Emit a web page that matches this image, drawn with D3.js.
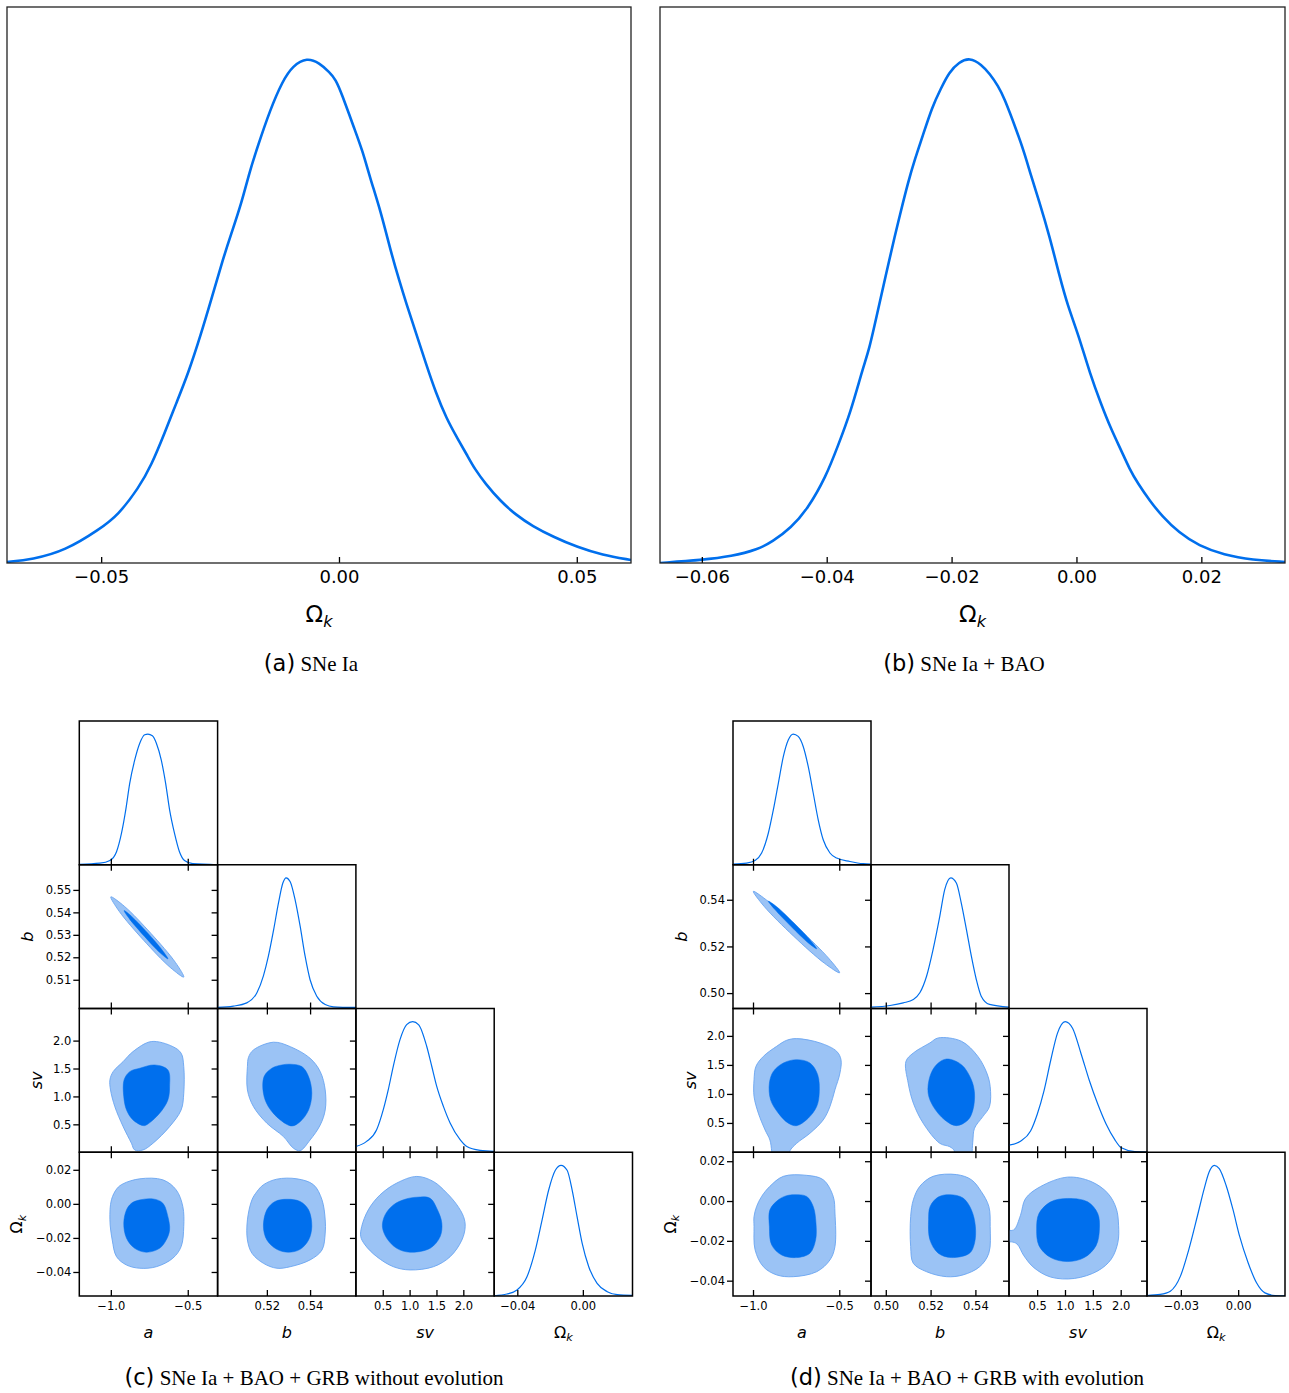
<!DOCTYPE html>
<html>
<head>
<meta charset="utf-8">
<script src="https://cdn.jsdelivr.net/npm/d3@7"></script>
<style>
  body { margin: 0; background: #fff; }
  text { font-family: "DejaVu Sans", sans-serif; white-space: pre; }
</style>
</head>
<body>
<svg id="fig" width="1289" height="1393"></svg>
<script>
// Omega_k posteriors (top) and triangle plots (bottom).
// 1D curves are [value, density relative to peak]; contours are outlines in parameter space.

// ---------- (a) SNe Ia ----------
const limitsA = [-0.0698, 0.0614];
const ticksA = [-0.05, 0.0, 0.05];
const tickLabelsA = ["−0.05", "0.00", "0.05"];
const curveA = [[-0.0698,0.002],[-0.0645,0.007],[-0.0576,0.024],[-0.0503,0.067],[-0.0464,0.095],[-0.0421,0.149],
  [-0.0395,0.192],[-0.0365,0.261],[-0.0343,0.314],[-0.0317,0.375],[-0.0291,0.450],[-0.0266,0.529],[-0.0244,0.601],
  [-0.0227,0.650],[-0.0205,0.712],[-0.0188,0.774],[-0.0171,0.824],[-0.0145,0.896],[-0.0119,0.953],[-0.0097,0.984],
  [-0.0067,1.0],[-0.0041,0.989],[-0.0020,0.971],[-0.0007,0.957],[0.0006,0.928],[0.0032,0.860],[0.0049,0.817],
  [0.0066,0.760],[0.0088,0.695],[0.0109,0.616],[0.0127,0.558],[0.0142,0.512],[0.0161,0.458],[0.0183,0.394],
  [0.0204,0.336],[0.0226,0.286],[0.0247,0.250],[0.0269,0.214],[0.0286,0.185],[0.0308,0.157],[0.0338,0.124],
  [0.0372,0.095],[0.0407,0.073],[0.0450,0.052],[0.0502,0.031],[0.0553,0.016],[0.0614,0.006]];

// ---------- (b) SNe Ia + BAO ----------
const limitsB = [-0.0667, 0.0334];
const ticksB = [-0.06, -0.04, -0.02, 0.0, 0.02];
const tickLabelsB = ["−0.06", "−0.04", "−0.02", "0.00", "0.02"];
const curveB = [[-0.0667,0.0],[-0.0600,0.006],[-0.0552,0.013],[-0.0510,0.027],[-0.0487,0.042],[-0.0457,0.070],
  [-0.0431,0.106],[-0.0401,0.171],[-0.0382,0.232],[-0.0362,0.297],[-0.0342,0.386],[-0.0332,0.422],[-0.0319,0.494],
  [-0.0306,0.566],[-0.0290,0.652],[-0.0283,0.687],[-0.0270,0.752],[-0.0258,0.802],[-0.0247,0.842],[-0.0231,0.903],
  [-0.0217,0.939],[-0.0204,0.971],[-0.0188,0.991],[-0.0171,1.0],[-0.0152,0.986],[-0.0139,0.968],[-0.0125,0.943],
  [-0.0116,0.921],[-0.0096,0.856],[-0.0083,0.810],[-0.0073,0.767],[-0.0060,0.717],[-0.0043,0.646],[-0.0027,0.567],
  [-0.0014,0.509],[0.0003,0.452],[0.0022,0.373],[0.0039,0.316],[0.0055,0.266],[0.0072,0.222],[0.0085,0.186],
  [0.0098,0.158],[0.0118,0.122],[0.0137,0.093],[0.0164,0.060],[0.0196,0.034],[0.0236,0.016],[0.0282,0.006],[0.0334,0.002]];

// ---------- triangle parameters ----------
const paramNames = ["a", "b", "sv", "Ωk"];

// (c) without evolution
const limitsC = [[-1.205,-0.306],[0.4972,0.5612],[0,2.575],[-0.0541,0.0303]];
const xTicksC = [[-1.0,-0.5],[0.52,0.54],[0.5,1.0,1.5,2.0],[-0.04,0.0]];
const xLabelsC = [["−1.0","−0.5"],["0.52","0.54"],["0.5","1.0","1.5","2.0"],["−0.04","0.00"]];
const yTicksC = [[],[0.51,0.52,0.53,0.54,0.55],[0.5,1.0,1.5,2.0],[-0.04,-0.02,0.0,0.02]];
const yLabelsC = [[],["0.51","0.52","0.53","0.54","0.55"],["0.5","1.0","1.5","2.0"],["−0.04","−0.02","0.00","0.02"]];

const margC_a = [[-1.205,0.003],[-1.071,0.012],[-1.006,0.033],[-0.963,0.10],[-0.931,0.24],[-0.903,0.42],[-0.877,0.625],
  [-0.845,0.80],[-0.812,0.93],[-0.780,0.995],[-0.759,1.0],[-0.730,0.987],[-0.704,0.93],[-0.672,0.80],[-0.644,0.625],
  [-0.618,0.42],[-0.586,0.24],[-0.554,0.10],[-0.521,0.033],[-0.467,0.008],[-0.306,0.0]];
const margC_b = [[0.4972,0.008],[0.5045,0.018],[0.5107,0.043],[0.5154,0.12],[0.5184,0.25],[0.5207,0.40],[0.5231,0.60],
  [0.5254,0.81],[0.5274,0.96],[0.5289,1.0],[0.5308,0.97],[0.5331,0.83],[0.5354,0.63],[0.5377,0.40],[0.5400,0.22],
  [0.5431,0.094],[0.5470,0.03],[0.5508,0.013],[0.5612,0.008]];
const margC_sv = [[0.0,0.044],[0.199,0.083],[0.386,0.172],[0.510,0.326],[0.603,0.479],[0.696,0.658],[0.821,0.862],
  [0.945,0.977],[1.057,1.0],[1.17,0.975],[1.318,0.811],[1.412,0.658],[1.505,0.504],[1.629,0.351],[1.754,0.224],
  [1.940,0.096],[2.065,0.044],[2.313,0.014],[2.575,0.006]];
const margC_ok = [[-0.0541,0.002],[-0.0463,0.015],[-0.0402,0.046],[-0.0341,0.147],[-0.0290,0.351],[-0.0249,0.580],
  [-0.0209,0.809],[-0.0168,0.962],[-0.0133,1.0],[-0.0096,0.962],[-0.0065,0.809],[-0.0035,0.605],[-0.0004,0.402],
  [0.0036,0.224],[0.0087,0.097],[0.0149,0.033],[0.0210,0.010],[0.0303,0.005]];

const contC_ab_outer = [[-1.000,0.5469],[-0.912,0.5427],[-0.739,0.5306],[-0.580,0.5177],[-0.526,0.5112],[-0.614,0.5155],[-0.787,0.5276],[-0.946,0.5405]];
const contC_ab_inner = [[-0.914,0.5408],[-0.863,0.5381],[-0.7605,0.5308],[-0.664,0.5230],[-0.629,0.5193],[-0.680,0.5220],[-0.7825,0.5294],[-0.879,0.5371]];
const contC_asv_outer = [[-0.737,1.983],[-0.597,1.892],[-0.543,1.774],[-0.526,1.534],[-0.526,1.057],[-0.543,0.758],[-0.618,0.459],
  [-0.726,0.161],[-0.791,0.041],[-0.845,0.041],[-0.866,0.161],[-0.920,0.459],[-0.974,0.817],[-1.002,1.116],[-1.006,1.296],
  [-0.985,1.444],[-0.920,1.624],[-0.856,1.803]];
const contC_asv_inner = [[-0.715,1.564],[-0.629,1.475],[-0.618,1.176],[-0.629,0.937],[-0.683,0.699],[-0.769,0.489],[-0.791,0.477],
  [-0.856,0.579],[-0.898,0.758],[-0.916,0.996],[-0.914,1.296],[-0.877,1.444],[-0.812,1.505]];
const contC_bsv_outer = [[0.5231,1.971],[0.5308,1.892],[0.5400,1.684],[0.5447,1.444],[0.5470,1.116],[0.5470,0.758],[0.5447,0.489],
  [0.5400,0.220],[0.5354,0.029],[0.5323,0.072],[0.5277,0.280],[0.5200,0.520],[0.5138,0.817],[0.5110,1.116],[0.5110,1.534],
  [0.5115,1.700],[0.5138,1.833]];
const contC_bsv_inner = [[0.5308,1.577],[0.5362,1.534],[0.5393,1.355],[0.5408,1.057],[0.5393,0.758],[0.5354,0.548],[0.5316,0.471],
  [0.5262,0.579],[0.5207,0.817],[0.5184,1.057],[0.5187,1.355],[0.5223,1.505],[0.5269,1.564]];
const contC_aok_outer = [[-0.920,0.0118],[-0.812,0.0147],[-0.662,0.0141],[-0.575,0.0082],[-0.532,-0.0016],[-0.526,-0.0133],
  [-0.543,-0.0251],[-0.597,-0.0319],[-0.704,-0.0369],[-0.812,-0.0378],[-0.898,-0.0359],[-0.963,-0.0310],[-0.991,-0.0212],
  [-1.006,-0.0094],[-0.996,0.0024],[-0.960,0.0090]];
const contC_aok_inner = [[-0.834,0.0018],[-0.726,0.0029],[-0.662,0.0004],[-0.629,-0.0075],[-0.618,-0.0153],[-0.640,-0.0212],
  [-0.683,-0.0261],[-0.769,-0.0284],[-0.845,-0.0261],[-0.898,-0.0202],[-0.916,-0.0114],[-0.898,-0.0035],[-0.870,0.0000]];
const contC_bok_outer = [[0.5184,0.0112],[0.5246,0.0145],[0.5339,0.0147],[0.5416,0.0112],[0.5455,0.0024],[0.5470,-0.0094],
  [0.5470,-0.0172],[0.5455,-0.0271],[0.5400,-0.0329],[0.5308,-0.0369],[0.5246,-0.0378],[0.5184,-0.0349],[0.5131,-0.0290],
  [0.5110,-0.0212],[0.5110,-0.0094],[0.5131,0.0024],[0.5154,0.0072]];
const contC_bok_inner = [[0.5293,0.0027],[0.5354,0.0014],[0.5393,-0.0035],[0.5408,-0.0133],[0.5393,-0.0212],[0.5354,-0.0267],
  [0.5300,-0.0284],[0.5246,-0.0267],[0.5200,-0.0212],[0.5184,-0.0133],[0.5200,-0.0035],[0.5238,0.0014]];
const contC_svok_outer = [[1.134,0.0161],[1.444,0.0131],[1.694,0.0063],[1.881,-0.0006],[2.004,-0.0075],[2.035,-0.0133],
  [1.974,-0.0212],[1.756,-0.0310],[1.444,-0.0369],[1.009,-0.0388],[0.698,-0.0369],[0.388,-0.0310],[0.170,-0.0241],
  [0.090,-0.0192],[0.108,-0.0133],[0.231,-0.0035],[0.450,0.0053],[0.761,0.0122]];
const contC_svok_inner = [[1.134,0.0039],[1.382,0.0033],[1.519,-0.0035],[1.600,-0.0114],[1.569,-0.0192],[1.382,-0.0261],
  [1.009,-0.0284],[0.761,-0.0261],[0.575,-0.0202],[0.493,-0.0133],[0.543,-0.0065],[0.698,-0.0006],[0.916,0.0027]];

// (d) with evolution
const limitsD = [[-1.116,-0.316],[0.4934,0.555],[-0.005,2.472],[-0.0477,0.0245]];
const xTicksD = [[-1.0,-0.5],[0.50,0.52,0.54],[0.5,1.0,1.5,2.0],[-0.03,0.0]];
const xLabelsD = [["−1.0","−0.5"],["0.50","0.52","0.54"],["0.5","1.0","1.5","2.0"],["−0.03","0.00"]];
const yTicksD = [[],[0.50,0.52,0.54],[0.5,1.0,1.5,2.0],[-0.04,-0.02,0.0,0.02]];
const yLabelsD = [[],["0.50","0.52","0.54"],["0.5","1.0","1.5","2.0"],["−0.04","−0.02","0.00","0.02"]];

const margD_a = [[-1.116,0.005],[-1.037,0.013],[-0.988,0.033],[-0.950,0.09],[-0.911,0.243],[-0.882,0.421],[-0.853,0.625],
  [-0.824,0.829],[-0.795,0.956],[-0.767,1.0],[-0.738,0.982],[-0.709,0.905],[-0.680,0.752],[-0.651,0.549],[-0.622,0.344],
  [-0.593,0.191],[-0.554,0.090],[-0.515,0.051],[-0.438,0.025],[-0.361,0.008],[-0.316,0.005]];
const margD_b = [[0.4934,0.010],[0.5019,0.023],[0.5078,0.043],[0.5123,0.069],[0.5152,0.120],[0.5182,0.247],[0.5211,0.451],
  [0.5241,0.705],[0.5263,0.909],[0.5290,1.0],[0.5315,0.960],[0.5337,0.807],[0.5360,0.604],[0.5382,0.400],[0.5404,0.222],
  [0.5426,0.094],[0.5463,0.031],[0.5550,0.010]];
const margD_sv = [[-0.005,0.054],[0.201,0.085],[0.382,0.162],[0.502,0.291],[0.624,0.472],[0.744,0.704],[0.864,0.910],
  [1.003,1.0],[1.136,0.949],[1.287,0.756],[1.437,0.549],[1.588,0.369],[1.740,0.214],[1.891,0.098],[2.011,0.034],
  [2.253,0.005],[2.472,0.002]];
const margD_ok = [[-0.0477,0.004],[-0.0408,0.012],[-0.0355,0.037],[-0.0302,0.152],[-0.0258,0.357],[-0.0213,0.614],
  [-0.0178,0.820],[-0.0152,0.949],[-0.0125,1.0],[-0.0099,0.975],[-0.0063,0.846],[-0.0028,0.666],[0.0007,0.460],
  [0.0052,0.255],[0.0096,0.101],[0.0140,0.024],[0.0193,0.004],[0.0245,0.002]];

const contD_ab_outer = [[-0.998,0.5436],[-0.910,0.5392],[-0.730,0.5274],[-0.560,0.5148],[-0.498,0.5087],[-0.586,0.5128],[-0.766,0.5245],[-0.936,0.5372]];
const contD_ab_inner = [[-0.911,0.5394],[-0.8626,0.5370],[-0.762,0.5300],[-0.6666,0.5225],[-0.631,0.5190],[-0.6794,0.5215],[-0.780,0.5286],[-0.8754,0.5360]];
const contD_asv_outer = [[-0.747,1.953],[-0.612,1.879],[-0.515,1.734],[-0.490,1.590],[-0.496,1.360],[-0.525,1.071],[-0.554,0.782],
  [-0.593,0.552],[-0.670,0.322],[-0.747,0.149],[-0.786,0.02],[-0.790,-0.06],[-0.890,-0.06],[-0.892,0.02],[-0.902,0.206],
  [-0.930,0.379],[-0.969,0.668],[-0.994,0.955],[-0.994,1.244],[-0.983,1.474],[-0.940,1.647],[-0.863,1.820],[-0.805,1.924]];
const contD_asv_inner = [[-0.747,1.590],[-0.670,1.533],[-0.625,1.331],[-0.616,1.014],[-0.631,0.782],[-0.680,0.581],[-0.747,0.453],
  [-0.795,0.495],[-0.853,0.668],[-0.898,0.898],[-0.905,1.187],[-0.882,1.388],[-0.824,1.533]];
const contD_bsv_outer = [[0.5234,1.965],[0.5338,1.907],[0.5411,1.647],[0.5451,1.360],[0.5466,1.128],[0.5463,0.782],[0.5433,0.609],
  [0.5396,0.408],[0.5389,0.206],[0.5386,0.02],[0.5386,-0.06],[0.5306,-0.06],[0.5306,0.02],[0.5286,0.090],[0.5241,0.149],
  [0.5167,0.495],[0.5123,0.841],[0.5100,1.187],[0.5090,1.561],[0.5123,1.706],[0.5197,1.879]];
const contD_bsv_inner = [[0.5271,1.602],[0.5338,1.503],[0.5382,1.244],[0.5396,1.014],[0.5389,0.725],[0.5367,0.552],[0.5315,0.453],
  [0.5263,0.552],[0.5212,0.782],[0.5189,1.014],[0.5197,1.301],[0.5226,1.503]];
const contD_aok_outer = [[-0.824,0.0124],[-0.689,0.0129],[-0.593,0.0107],[-0.535,0.0023],[-0.525,-0.0060],[-0.525,-0.0229],
  [-0.554,-0.0296],[-0.631,-0.0355],[-0.767,-0.0380],[-0.863,-0.0371],[-0.940,-0.0330],[-0.988,-0.0245],[-0.994,-0.0128],
  [-0.994,-0.0078],[-0.979,-0.0027],[-0.950,0.0023],[-0.902,0.0074]];
const contD_aok_inner = [[-0.757,0.0032],[-0.689,0.0023],[-0.651,-0.0027],[-0.635,-0.0111],[-0.637,-0.0195],[-0.670,-0.0262],
  [-0.747,-0.0284],[-0.834,-0.0271],[-0.892,-0.0220],[-0.905,-0.0128],[-0.902,-0.0044],[-0.853,0.0006],[-0.805,0.0027]];
const contD_bok_outer = [[0.5211,0.0124],[0.5315,0.0133],[0.5382,0.0107],[0.5426,0.0048],[0.5460,-0.0027],[0.5466,-0.0128],
  [0.5460,-0.0262],[0.5419,-0.0330],[0.5345,-0.0371],[0.5271,-0.0380],[0.5182,-0.0355],[0.5123,-0.0313],[0.5111,-0.0229],
  [0.5111,-0.0078],[0.5123,0.0006],[0.5152,0.0074]];
const contD_bok_inner = [[0.5286,0.0032],[0.5345,0.0015],[0.5382,-0.0044],[0.5400,-0.0128],[0.5396,-0.0212],[0.5374,-0.0262],
  [0.5293,-0.0284],[0.5234,-0.0262],[0.5197,-0.0195],[0.5191,-0.0094],[0.5198,-0.0027],[0.5234,0.0020]];
const contD_svok_outer = [[1.045,0.0120],[1.468,0.0098],[1.769,0.0039],[1.921,-0.0038],[1.962,-0.0122],[1.950,-0.0207],
  [1.830,-0.0292],[1.588,-0.0351],[1.167,-0.0389],[0.744,-0.0382],[0.443,-0.0335],[0.262,-0.0275],[0.140,-0.0216],
  [0.040,-0.0205],[-0.06,-0.0205],[-0.06,-0.0150],[0.081,-0.0145],[0.201,-0.0072],[0.292,0.0013],[0.563,0.0073]];
const contD_svok_inner = [[1.045,0.0013],[1.407,-0.0004],[1.588,-0.0063],[1.618,-0.0140],[1.558,-0.0224],[1.347,-0.0284],
  [1.045,-0.0304],[0.744,-0.0284],[0.533,-0.0224],[0.491,-0.0140],[0.533,-0.0063],[0.744,-0.0004]];

const BLUE = "#006FED";
const LIGHT = "#9BC3F5";
const EDGE = "#6AA5F0";
const svg = d3.select("#fig");

function styleAxis(sel, size) {
  sel.select(".domain").remove();
  sel.attr("font-family", null).attr("font-size", null);
  sel.selectAll(".tick line").attr("stroke", "#000").attr("stroke-width", 1.3);
  sel.selectAll(".tick text").attr("fill", "#000").attr("font-size", size)
    .attr("font-family", "DejaVu Sans, sans-serif");
}

function addOmegaK(t, size) {
  t.append("tspan").text("Ω");
  t.append("tspan").attr("font-style", "italic").attr("font-size", size * 0.7)
    .attr("dy", size * 0.2).text("k");
}

function caption(cx, y, tag, words) {
  const t = svg.append("text").attr("x", cx).attr("y", y).attr("text-anchor", "middle");
  t.append("tspan").attr("font-family", "DejaVu Sans, sans-serif").attr("font-size", 22.5).text(tag);
  t.append("tspan").attr("font-family", "Liberation Serif, Times New Roman, serif").attr("font-size", 21).text(" " + words);
}

// single 1D posterior panel
function drawSingle(o) {
  const x = d3.scaleLinear().domain(o.limits).range([o.left, o.right]);
  const y = d3.scaleLinear().domain([0, 1.1]).range([o.bottom, o.top]);
  const g = svg.append("g");
  g.append("clipPath").attr("id", o.id).append("rect")
    .attr("x", o.left).attr("y", o.top).attr("width", o.right - o.left).attr("height", o.bottom - o.top);

  g.append("path").datum(o.curve)
    .attr("d", d3.line().x(d => x(d[0])).y(d => y(d[1])).curve(d3.curveBasis))
    .attr("fill", "none").attr("stroke", BLUE).attr("stroke-width", 2.6)
    .attr("clip-path", `url(#${o.id})`);

  const ax = g.append("g").attr("transform", `translate(0,${o.bottom})`)
    .call(d3.axisBottom(x).tickValues(o.ticks).tickFormat((d, i) => o.labels[i])
      .tickSizeInner(-6).tickSizeOuter(0).tickPadding(7.5));
  styleAxis(ax, 18);

  g.append("rect").attr("x", o.left).attr("y", o.top)
    .attr("width", o.right - o.left).attr("height", o.bottom - o.top)
    .attr("fill", "none").attr("stroke", "#222").attr("stroke-width", 1.3);

  const lab = g.append("text").attr("x", (o.left + o.right) / 2).attr("y", 622)
    .attr("text-anchor", "middle").attr("font-size", 23);
  addOmegaK(lab, 23);
}

// triangle (corner) plot
function drawTriangle(c) {
  const n = c.limits.length;
  const sx = c.limits.map((lim, i) => d3.scaleLinear().domain(lim).range([c.x0 + i * c.w, c.x0 + (i + 1) * c.w]));
  const sy = c.limits.map((lim, j) => d3.scaleLinear().domain(lim).range([c.y0 + (j + 1) * c.h, c.y0 + j * c.h]));
  const g = svg.append("g");

  for (let j = 0; j < n; j++) {
    for (let i = 0; i <= j; i++) {
      const L = c.x0 + i * c.w, T = c.y0 + j * c.h;
      const cid = `${c.id}-${i}-${j}`;
      g.append("clipPath").attr("id", cid).append("rect")
        .attr("x", L).attr("y", T).attr("width", c.w).attr("height", c.h);
      const cell = g.append("g");

      if (i === j) {
        const dens = d3.scaleLinear().domain([0, 1.1]).range([T + c.h, T]);
        cell.append("path").datum(c.marg[i])
          .attr("d", d3.line().x(d => sx[i](d[0])).y(d => dens(d[1])).curve(d3.curveMonotoneX))
          .attr("fill", "none").attr("stroke", BLUE).attr("stroke-width", 1.2)
          .attr("clip-path", `url(#${cid})`);
      } else {
        const pair = c.contours.find(p => p.i === i && p.j === j);
        const shape = d3.line().x(d => sx[i](d[0])).y(d => sy[j](d[1])).curve(d3.curveCatmullRomClosed.alpha(0.5));
        const cg = cell.append("g").attr("clip-path", `url(#${cid})`);
        cg.append("path").datum(pair.outer).attr("d", shape)
          .attr("fill", LIGHT).attr("stroke", EDGE).attr("stroke-width", 0.9);
        cg.append("path").datum(pair.inner).attr("d", shape)
          .attr("fill", BLUE).attr("stroke", BLUE).attr("stroke-width", 0.5);
      }

      // bottom ticks (inward); labels on the last row only
      const bx = cell.append("g").attr("transform", `translate(0,${T + c.h})`)
        .call(d3.axisBottom(sx[i]).tickValues(c.xTicks[i])
          .tickFormat((d, k) => j === n - 1 ? c.xLabels[i][k] : "")
          .tickSizeInner(-6).tickSizeOuter(0).tickPadding(5.5));
      styleAxis(bx, 11.5);

      if (i < j) {
        const tx = cell.append("g").attr("transform", `translate(0,${T})`)
          .call(d3.axisTop(sx[i]).tickValues(c.xTicks[i]).tickFormat(() => "")
            .tickSizeInner(-6).tickSizeOuter(0));
        styleAxis(tx, 11.5);
      }
      if (j > 0) {
        const ly = cell.append("g").attr("transform", `translate(${L},0)`)
          .call(d3.axisLeft(sy[j]).tickValues(c.yTicks[j])
            .tickFormat((d, k) => i === 0 ? c.yLabels[j][k] : "")
            .tickSizeInner(6).tickSizeOuter(0).tickPadding(2));
        styleAxis(ly, 11.5);
      }

      cell.append("rect").attr("x", L).attr("y", T).attr("width", c.w).attr("height", c.h)
        .attr("fill", "none").attr("stroke", "#000").attr("stroke-width", 1.5);
    }
  }

  // parameter names under the columns
  paramNames.forEach((name, i) => {
    const t = g.append("text").attr("x", c.x0 + (i + 0.5) * c.w).attr("y", c.y0 + n * c.h + 42)
      .attr("text-anchor", "middle").attr("font-size", 16);
    if (name === "Ωk") addOmegaK(t, 16);
    else t.attr("font-style", "italic").text(name);
  });

  // parameter names beside the rows
  const labelOffset = [0, 46.3, 37.5, 57];
  for (let j = 1; j < n; j++) {
    const px = c.x0 - labelOffset[j], py = c.y0 + (j + 0.5) * c.h;
    const t = g.append("text").attr("transform", `translate(${px},${py}) rotate(-90)`)
      .attr("text-anchor", "middle").attr("font-size", 16);
    if (paramNames[j] === "Ωk") addOmegaK(t, 16);
    else t.attr("font-style", "italic").text(paramNames[j]);
  }
}

drawSingle({ id: "clipA", left: 7, right: 631, top: 7, bottom: 563,
  limits: limitsA, curve: curveA, ticks: ticksA, labels: tickLabelsA });
drawSingle({ id: "clipB", left: 660, right: 1285, top: 7, bottom: 563,
  limits: limitsB, curve: curveB, ticks: ticksB, labels: tickLabelsB });
caption(311, 671, "(a)", "SNe Ia");
caption(964, 671, "(b)", "SNe Ia + BAO");

drawTriangle({
  id: "triC", x0: 79.3, y0: 721, w: 138.3, h: 143.75,
  limits: limitsC, xTicks: xTicksC, xLabels: xLabelsC, yTicks: yTicksC, yLabels: yLabelsC,
  marg: [margC_a, margC_b, margC_sv, margC_ok],
  contours: [
    { i: 0, j: 1, outer: contC_ab_outer, inner: contC_ab_inner },
    { i: 0, j: 2, outer: contC_asv_outer, inner: contC_asv_inner },
    { i: 1, j: 2, outer: contC_bsv_outer, inner: contC_bsv_inner },
    { i: 0, j: 3, outer: contC_aok_outer, inner: contC_aok_inner },
    { i: 1, j: 3, outer: contC_bok_outer, inner: contC_bok_inner },
    { i: 2, j: 3, outer: contC_svok_outer, inner: contC_svok_inner }
  ]
});
drawTriangle({
  id: "triD", x0: 733, y0: 721, w: 138, h: 143.75,
  limits: limitsD, xTicks: xTicksD, xLabels: xLabelsD, yTicks: yTicksD, yLabels: yLabelsD,
  marg: [margD_a, margD_b, margD_sv, margD_ok],
  contours: [
    { i: 0, j: 1, outer: contD_ab_outer, inner: contD_ab_inner },
    { i: 0, j: 2, outer: contD_asv_outer, inner: contD_asv_inner },
    { i: 1, j: 2, outer: contD_bsv_outer, inner: contD_bsv_inner },
    { i: 0, j: 3, outer: contD_aok_outer, inner: contD_aok_inner },
    { i: 1, j: 3, outer: contD_bok_outer, inner: contD_bok_inner },
    { i: 2, j: 3, outer: contD_svok_outer, inner: contD_svok_inner }
  ]
});
caption(314, 1385, "(c)", "SNe Ia + BAO + GRB without evolution");
caption(967, 1385, "(d)", "SNe Ia + BAO + GRB with evolution");
</script>
</body>
</html>
